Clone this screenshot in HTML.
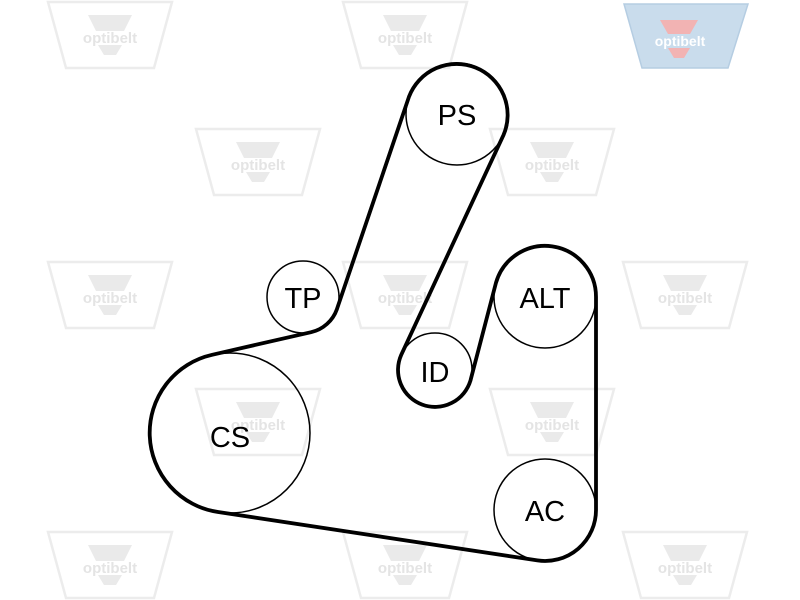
<!DOCTYPE html>
<html><head><style>
html,body{margin:0;padding:0;background:#fff;}
svg{display:block;}
</style></head><body>
<svg width="800" height="600" viewBox="0 0 800 600" xmlns="http://www.w3.org/2000/svg">
<defs>
<g id="wm">
<path d="M-62,-33 L62,-33 L44,33 L-44,33 Z" fill="none" stroke="#ececec" stroke-width="2.5"/>
<path d="M-22,-20 L22,-20 L14,-4 L-14,-4 Z" fill="#eaeaea"/>
<path d="M-12,10 L12,10 L6,20 L-6,20 Z" fill="#eaeaea"/>
<text x="0" y="8" font-family="Liberation Sans, sans-serif" font-weight="bold" font-size="15" fill="#e4e4e4" text-anchor="middle">optibelt</text>
</g>
</defs>
<use href="#wm" x="110" y="35"/>
<use href="#wm" x="405" y="35"/>
<use href="#wm" x="258" y="162"/>
<use href="#wm" x="552" y="162"/>
<use href="#wm" x="110" y="295"/>
<use href="#wm" x="405" y="295"/>
<use href="#wm" x="685" y="295"/>
<use href="#wm" x="258" y="422"/>
<use href="#wm" x="552" y="422"/>
<use href="#wm" x="110" y="565"/>
<use href="#wm" x="405" y="565"/>
<use href="#wm" x="685" y="565"/>
<path d="M624,4 L748,4 L728,68 L642,68 Z" fill="#c9dcec" stroke="#b5cde2" stroke-width="1.5"/>
<path d="M660,20 L698,20 L690,34 L668,34 Z" fill="#f2b3b3"/>
<path d="M668,48 L690,48 L684,58 L674,58 Z" fill="#f2b3b3"/>
<text x="680" y="46" font-family="Liberation Sans, sans-serif" font-weight="bold" font-size="14" fill="#fff" text-anchor="middle">optibelt</text>

<g fill="none" stroke="#000">
<circle cx="457" cy="114" r="51" stroke-width="1.5"/>
<circle cx="303" cy="297" r="36" stroke-width="1.5"/>
<circle cx="435" cy="370" r="37" stroke-width="1.5"/>
<circle cx="545" cy="297" r="51" stroke-width="1.5"/>
<circle cx="230" cy="433" r="80" stroke-width="1.5"/>
<circle cx="545" cy="510" r="51" stroke-width="1.5"/>
<path stroke-width="3.8" stroke-linejoin="round" d="M336.9,309.2 L409,96.7 A51 51 0 1 1 503.6,134.8 L401.2,354.9 A37 37 0 1 0 470.5,380.4 L496,282.7 A51 51 0 0 1 596,297 L596,510 A51 51 0 0 1 537.4,560.4 L218.1,512 A80 80 0 0 1 212.1,354.8 L311.1,332.2 A36 36 0 0 0 336.9,309.2 Z"/>
</g>
<g font-family="Liberation Sans, sans-serif" font-size="29" fill="#000" text-anchor="middle">
<text x="457" y="125">PS</text>
<text x="303" y="308">TP</text>
<text x="435" y="382">ID</text>
<text x="545" y="308">ALT</text>
<text x="230" y="447">CS</text>
<text x="545" y="521">AC</text>
</g>
</svg>
</body></html>
